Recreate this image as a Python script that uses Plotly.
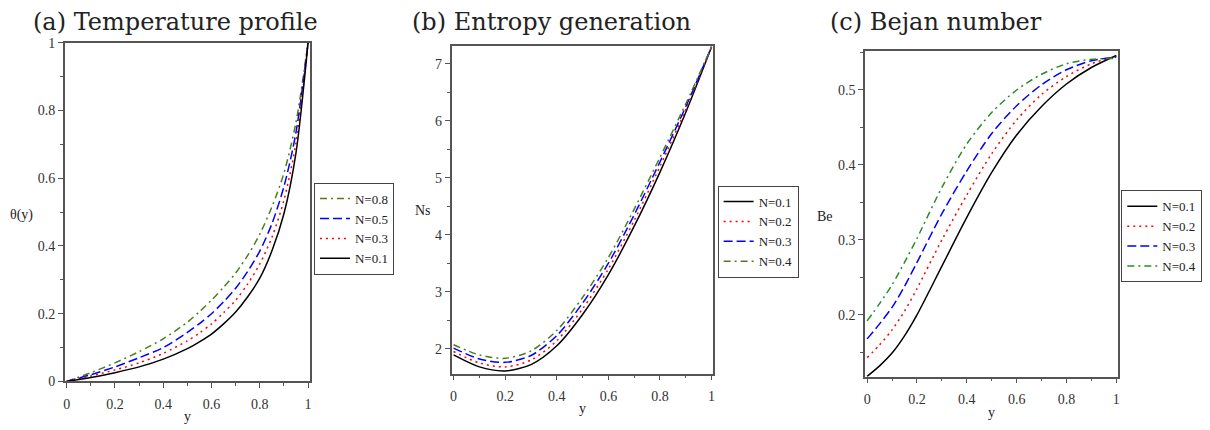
import plotly.graph_objects as go

# ---------------- data ----------------
# (a) Temperature profile
ya = [0, 0.1, 0.2, 0.3, 0.4, 0.5, 0.55, 0.6, 0.65, 0.7, 0.75, 0.8, 0.85, 0.9, 0.95, 1.0]
theta_N01 = [0, 0.012, 0.026, 0.043, 0.066, 0.097, 0.117, 0.140, 0.170, 0.205, 0.250, 0.305, 0.385, 0.495, 0.675, 1.0]
theta_N03 = [0, 0.016, 0.034, 0.055, 0.083, 0.120, 0.143, 0.170, 0.203, 0.240, 0.288, 0.347, 0.425, 0.535, 0.705, 1.0]
theta_N05 = [0, 0.020, 0.043, 0.070, 0.100, 0.145, 0.171, 0.200, 0.235, 0.275, 0.325, 0.385, 0.465, 0.575, 0.735, 1.0]
theta_N08 = [0, 0.026, 0.055, 0.088, 0.126, 0.175, 0.206, 0.240, 0.278, 0.320, 0.372, 0.435, 0.515, 0.615, 0.765, 1.0]

# (b) Entropy generation
yb = [0, 0.1, 0.2, 0.3, 0.4, 0.5, 0.6, 0.7, 0.8, 0.9, 1.0]
Ns_N01 = [1.89, 1.68, 1.61, 1.72, 2.05, 2.60, 3.30, 4.15, 5.10, 6.15, 7.30]
Ns_N02 = [1.95, 1.75, 1.68, 1.80, 2.14, 2.70, 3.40, 4.25, 5.20, 6.20, 7.30]
Ns_N03 = [2.01, 1.82, 1.76, 1.88, 2.23, 2.80, 3.50, 4.35, 5.28, 6.25, 7.30]
Ns_N04 = [2.07, 1.89, 1.83, 1.96, 2.32, 2.90, 3.60, 4.45, 5.36, 6.30, 7.30]

# (c) Bejan number
yc = [0, 0.05, 0.1, 0.15, 0.2, 0.3, 0.4, 0.5, 0.6, 0.7, 0.8, 0.9, 1.0]
Be_N01 = [0.118, 0.132, 0.149, 0.172, 0.200, 0.265, 0.330, 0.390, 0.440, 0.478, 0.508, 0.530, 0.546]
Be_N02 = [0.143, 0.160, 0.180, 0.205, 0.235, 0.300, 0.360, 0.415, 0.460, 0.494, 0.518, 0.535, 0.545]
Be_N03 = [0.168, 0.188, 0.210, 0.238, 0.270, 0.335, 0.392, 0.442, 0.479, 0.507, 0.527, 0.539, 0.544]
Be_N04 = [0.192, 0.215, 0.240, 0.270, 0.302, 0.370, 0.428, 0.470, 0.500, 0.521, 0.535, 0.541, 0.542]

xticks = [0, 0.2, 0.4, 0.6, 0.8, 1]
ticks_a = [0, 0.2, 0.4, 0.6, 0.8, 1]
ticks_b = [2, 3, 4, 5, 6, 7]
ticks_c = [0.2, 0.3, 0.4, 0.5]

W, H = 1210, 430

# ---------------- styles ----------------
GREEN_AB = "#4a7f1a"
GREEN_C = "#2a8a2a"
DASHDOT = "7px,4px,2px,4px"
DASH = "9px,4px"
DOT = "2px,4px"
LW = 1.5

fig = go.Figure()

def add(x, y, name, color, dash, xa, ya_, leg):
    fig.add_trace(go.Scatter(
        x=x, y=y, name=name, mode="lines",
        line=dict(color=color, dash=dash, width=LW, shape="spline", smoothing=0.8),
        xaxis=xa, yaxis=ya_, legend=leg))

# (a) legend order: 0.8, 0.5, 0.3, 0.1
add(ya, theta_N08, "N=0.8", GREEN_AB, DASHDOT, "x", "y", "legend")
add(ya, theta_N05, "N=0.5", "#0000ff", DASH, "x", "y", "legend")
add(ya, theta_N03, "N=0.3", "#ff0000", DOT, "x", "y", "legend")
add(ya, theta_N01, "N=0.1", "#000000", "solid", "x", "y", "legend")

add(yb, Ns_N01, "N=0.1", "#000000", "solid", "x2", "y2", "legend2")
add(yb, Ns_N02, "N=0.2", "#ff0000", DOT, "x2", "y2", "legend2")
add(yb, Ns_N03, "N=0.3", "#0000ff", DASH, "x2", "y2", "legend2")
add(yb, Ns_N04, "N=0.4", GREEN_AB, DASHDOT, "x2", "y2", "legend2")

add(yc, Be_N01, "N=0.1", "#000000", "solid", "x3", "y3", "legend3")
add(yc, Be_N02, "N=0.2", "#ff0000", DOT, "x3", "y3", "legend3")
add(yc, Be_N03, "N=0.3", "#0000ff", DASH, "x3", "y3", "legend3")
add(yc, Be_N04, "N=0.4", GREEN_C, DASHDOT, "x3", "y3", "legend3")

TICKFONT = dict(family="Liberation Serif", size=14, color="#333333")
LINEC = "#555555"

def xaxis(px0, px1, rng, anchor):
    return dict(domain=[px0 / W, px1 / W], range=rng, anchor=anchor,
                tickvals=xticks, ticktext=[f"{v:g}" for v in xticks],
                ticks="outside", ticklen=5, tickcolor=LINEC, tickwidth=1,
                ticklabelstandoff=4,
                minor=dict(ticks="outside", ticklen=3, dtick=0.1, tick0=0, tickcolor=LINEC),
                showline=True, mirror=True, linecolor=LINEC, linewidth=1.5,
                showgrid=False, zeroline=False, tickfont=TICKFONT)

def yaxis(py0, py1, rng, anchor, tv, mdt):
    return dict(domain=[1 - py1 / H, 1 - py0 / H], range=rng, anchor=anchor,
                tickvals=tv, ticktext=[f"{v:g}" for v in tv],
                ticks="outside", ticklen=5, tickcolor=LINEC, tickwidth=1,
                minor=dict(ticks="outside", ticklen=3, dtick=mdt, tick0=0, tickcolor=LINEC),
                showline=True, mirror=True, linecolor=LINEC, linewidth=1.5,
                showgrid=False, zeroline=False, tickfont=TICKFONT)

def legend(px, py):
    return dict(x=px / W, y=1 - py / H, xanchor="left", yanchor="top",
                bordercolor="#444444", borderwidth=1, bgcolor="white",
                font=dict(family="Liberation Serif", size=13, color="#222222"),
                tracegroupgap=0, itemwidth=30)

fig.update_layout(
    width=W, height=H, margin=dict(l=0, r=0, t=0, b=0),
    paper_bgcolor="white", plot_bgcolor="white", showlegend=True,
    xaxis=xaxis(63, 309, [-0.008, 1.008], "y"),
    yaxis=yaxis(37, 388, [0, 1.0], "x", ticks_a, 0.1),
    xaxis2=xaxis(451, 713, [-0.008, 1.004], "y2"),
    yaxis2=yaxis(40, 380, [1.56, 7.32], "x2", ticks_b, 0.5),
    xaxis3=xaxis(866, 1120, [-0.008, 1.008], "y3"),
    yaxis3=yaxis(46, 383, [0.1176, 0.5515], "x3", ticks_c, 0.05),
    legend=legend(313, 182),
    legend2=legend(718, 185),
    legend3=legend(1123, 190),
)

TITLEFONT = dict(family="DejaVu Serif", size=24, color="#222222")
LABELFONT = dict(family="Liberation Serif", size=14, color="#222222")

def ann(text, px, py, font, xanchor="center"):
    fig.add_annotation(text=text, x=px / W, y=1 - py / H, xref="paper", yref="paper",
                       xanchor=xanchor, yanchor="middle", showarrow=False, font=font)

ann("(a) Temperature profile", 29, 16, TITLEFONT, "left")
ann("(b) Entropy generation", 409, 16, TITLEFONT, "left")
ann("(c) Bejan number", 829, 16, TITLEFONT, "left")

ann("θ(y)", 20, 215, LABELFONT)
ann("Ns", 422, 211, LABELFONT)
ann("Be", 826, 217, LABELFONT)
ann("y", 186, 424, LABELFONT)
ann("y", 582, 416, LABELFONT)
ann("y", 993, 420, LABELFONT)

fig.write_html("out.html", config={"displayModeBar": False},
               post_script="document.body.style.margin='0px';document.body.style.overflow='hidden';")
